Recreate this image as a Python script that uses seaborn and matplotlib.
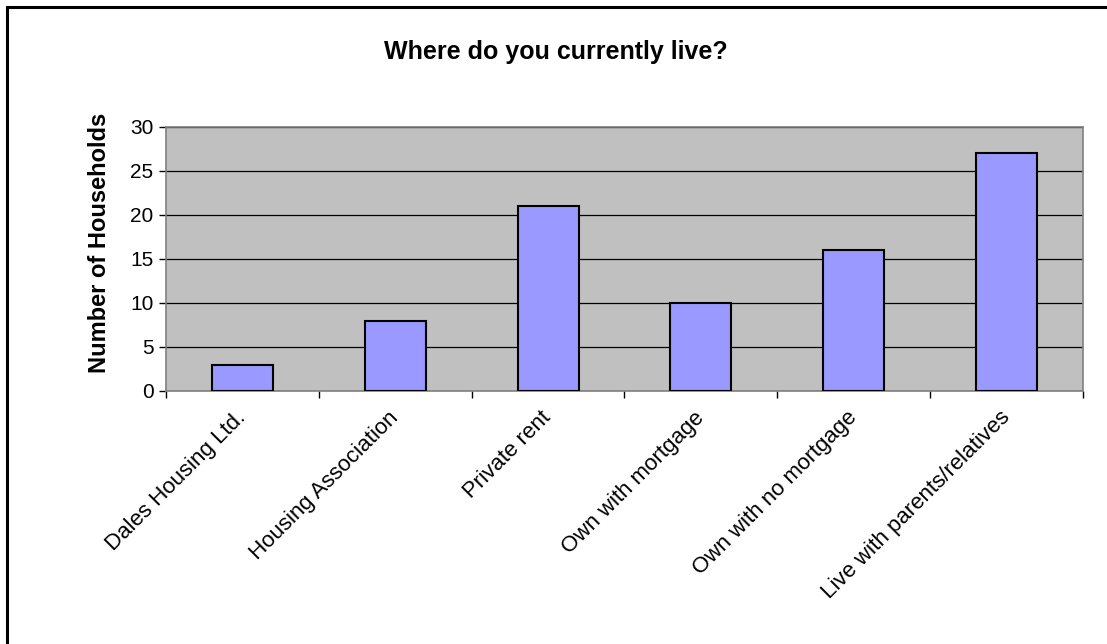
import matplotlib
matplotlib.use("Agg")
import matplotlib.pyplot as plt
import seaborn as sns
import pandas as pd
from matplotlib.patches import Rectangle
from matplotlib.ticker import FixedLocator

categories = ["Dales Housing Ltd.", "Housing Association", "Private rent",
              "Own with mortgage", "Own with no mortgage", "Live with parents/relatives"]
households = [3, 8, 21, 10, 16, 27]
y_ticks = [0, 5, 10, 15, 20, 25, 30]

title = "Where do you currently live?"
y_label = "Number of Households"

sns.set_style("white")
plt.rcParams['font.family'] = ['Liberation Sans', 'DejaVu Sans']
plt.rcParams['text.color'] = 'black'
plt.rcParams['xtick.color'] = 'black'
plt.rcParams['ytick.color'] = 'black'
plt.rcParams['axes.labelcolor'] = 'black'

df = pd.DataFrame({"category": categories, "households": households})

fig = plt.figure(figsize=(11.07, 6.44), dpi=100)
ax = fig.add_axes([166/1107, 1 - 391/644, (1083 - 166)/1107, (391 - 127)/644])
ax.set_facecolor("#C0C0C0")

sns.barplot(data=df, x="category", y="households", ax=ax, color="#9999FF",
            saturation=1, width=0.4, edgecolor="black", linewidth=1.5, zorder=3)

ax.set_xlim(-0.5, len(categories) - 0.5)
ax.set_ylim(0, 30)
ax.set_yticks(y_ticks)
ax.yaxis.grid(True, color="black", linewidth=0.9, zorder=1)
ax.set_axisbelow(True)

for s in ["top", "right", "left", "bottom"]:
    ax.spines[s].set_color("#808080")
    ax.spines[s].set_linewidth(1.2)

ax.set_xticks(range(len(categories)))
ax.set_xticklabels(categories, rotation=45, ha="right", va="center",
                   rotation_mode="anchor", fontsize=16)
ax.tick_params(axis="x", which="major", length=0, pad=17)
ax.xaxis.set_minor_locator(FixedLocator([i - 0.5 for i in range(len(categories) + 1)]))
ax.tick_params(axis="x", which="minor", length=5, width=1, color="black", bottom=True)
ax.tick_params(axis="y", which="major", length=5, width=1, color="black", left=True,
               labelsize=15, pad=4)

ax.set_xlabel("")
ax.set_ylabel("")
fig.text(100/1107, 1 - 243/644, y_label, ha="center", va="center", rotation=90,
         fontsize=17, fontweight="bold")
fig.text(556/1107, 1 - 52/644, title, ha="center", va="center",
         fontsize=18, fontweight="bold")

fig.add_artist(Rectangle((7/1107, -0.1), 1.2, 1.1 - 6.5/644,
                         transform=fig.transFigure, fill=False,
                         edgecolor="black", linewidth=2.2, zorder=10))

fig.savefig("out.png", dpi=100)
